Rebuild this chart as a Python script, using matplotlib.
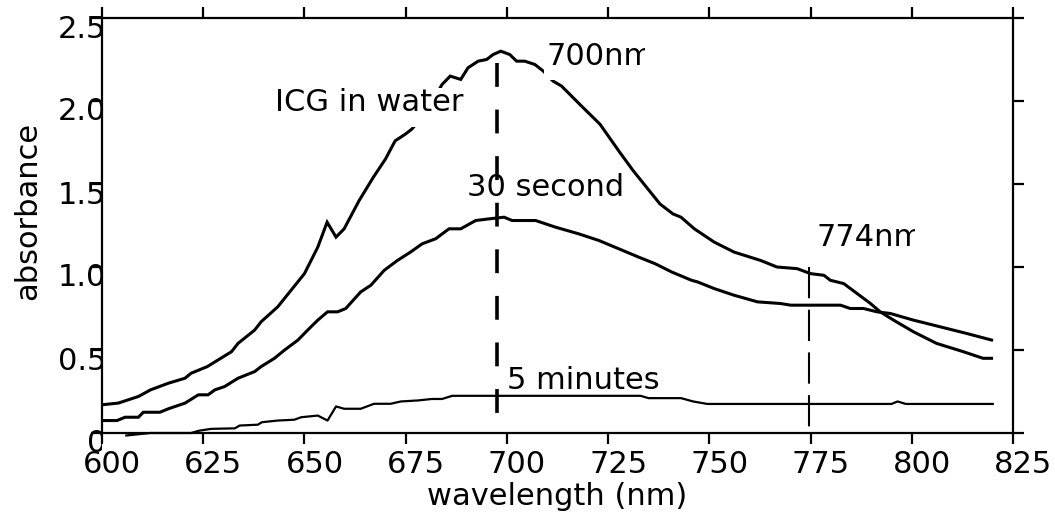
import matplotlib
matplotlib.use("Agg")
import matplotlib.pyplot as plt
from matplotlib.path import Path
from matplotlib.transforms import ScaledTranslation, TransformedBbox, Bbox

# ---------------- data ----------------
icg_nm = [600, 604, 609, 612, 616.4, 620.5, 622, 626, 628, 632, 633.6, 637.7, 639.3,
          643.4, 646.7, 650, 653.3, 655.6, 657.8, 659.8, 663.5, 667, 670, 672.4, 674.9,
          676.5, 680, 684, 686, 688.6, 690.4, 692.9, 695, 696.6, 698.5, 700.7, 702.4,
          704.4, 706.9, 709, 711.4, 713.5, 718, 723, 727.9, 731.2, 734.5, 737.8, 741,
          743, 746.3, 751.2, 756.1, 762.6, 766.7, 771.7, 775, 778.3, 779.9, 783.2,
          786.5, 789.8, 792.2, 795.5, 800.4, 806.1, 812.7, 817.6, 819.7]
icg_abs = [0.17, 0.18, 0.22, 0.26, 0.30, 0.33, 0.36, 0.40, 0.43, 0.49, 0.54, 0.62, 0.67,
           0.76, 0.86, 0.96, 1.12, 1.27, 1.18, 1.23, 1.40, 1.54, 1.65, 1.76, 1.80,
           1.83, 1.93, 2.10, 2.15, 2.13, 2.20, 2.24, 2.25, 2.28, 2.30, 2.28, 2.24,
           2.24, 2.22, 2.18, 2.12, 2.09, 1.98, 1.86, 1.69, 1.58, 1.48, 1.38, 1.32,
           1.30, 1.23, 1.15, 1.09, 1.04, 1.00, 0.99, 0.96, 0.95, 0.92, 0.90,
           0.84, 0.78, 0.73, 0.68, 0.61, 0.54, 0.49, 0.45, 0.45]

sec30_nm = [600, 603.7, 605.7, 609, 610.2, 614.3, 616.4, 620.5, 623.8, 626.2, 627.9,
            630.3, 633.6, 637.7, 639.3, 642.6, 645.1, 648.4, 650.8, 653.3, 655.7, 658.2,
            660.2, 663.9, 666.4, 669.7, 673, 676.2, 679.1, 682.4, 685.7, 688.6, 692.3,
            695.6, 699.3, 701.3, 707.1, 712, 717.7, 722.7, 727.6, 732.5, 736.6, 740.7,
            745.6, 747.1, 751.2, 756.1, 761.9, 767.6, 770.1, 782.4, 784.8, 788.1,
            791.4, 794.7, 800.4, 803.7, 808.6, 813.5, 819.7]
sec30_abs = [0.075, 0.075, 0.095, 0.095, 0.125, 0.125, 0.146, 0.18, 0.23, 0.23, 0.26,
             0.28, 0.33, 0.37, 0.40, 0.45, 0.50, 0.56, 0.62, 0.68, 0.73, 0.73,
             0.75, 0.85, 0.89, 0.98, 1.04, 1.09, 1.14, 1.17, 1.23, 1.23, 1.28,
             1.29, 1.30, 1.28, 1.28, 1.24, 1.20, 1.16, 1.11, 1.06, 1.02, 0.97,
             0.92, 0.91, 0.87, 0.83, 0.79, 0.78, 0.77, 0.77, 0.75, 0.75,
             0.73, 0.72, 0.68, 0.66, 0.63, 0.60, 0.56]

min5_nm = [606, 612, 622, 624, 627, 632.8, 634, 638.5, 639.5, 643.4, 647.5, 649.2,
           653.3, 655.7, 657.8, 659.8, 663.9, 667.2, 671.3, 673.8, 678, 681.5, 684,
           686.5, 733, 735, 743, 746, 749.5, 795, 796.5, 798.5, 820]
min5_abs = [-0.015, 0.0, 0.0, 0.014, 0.025, 0.028, 0.045, 0.05, 0.065, 0.075, 0.08, 0.095,
            0.105, 0.075, 0.16, 0.146, 0.146, 0.176, 0.176, 0.19, 0.196, 0.205, 0.205,
            0.224, 0.224, 0.21, 0.21, 0.19, 0.175, 0.175, 0.19, 0.175, 0.175]

peak_nm = [697.5, 774.7]
peak_top = [2.23, 1.00]
peak_bottom = [0.05, 0.01]

x_ticks = [600, 625, 650, 675, 700, 725, 750, 775, 800, 825]
y_ticks = [0, 0.5, 1.0, 1.5, 2.0, 2.5]
y_tick_labels = ["0", "0.5", "1.0", "1.5", "2.0", "2.5"]

# ---------------- figure ----------------
plt.rcParams['font.family'] = ['DejaVu Sans']
FS = 22
W, H = 1055, 518
fig = plt.figure(figsize=(W / 100, H / 100), dpi=100)
ax = fig.add_axes([102 / W, (H - 433) / H, (1013 - 102) / W, (433 - 18) / H])

ax.plot(icg_nm, icg_abs, color='black', lw=2.2, solid_joinstyle='miter', zorder=2)
ax.plot(sec30_nm, sec30_abs, color='black', lw=2.2, solid_joinstyle='miter', zorder=2)
ax.plot(min5_nm, min5_abs, color='black', lw=1.6, clip_on=False, zorder=2)

# dashed peak markers
ax.plot([peak_nm[0], peak_nm[0]], [peak_top[0], peak_bottom[0]], color='black',
        lw=2.6, ls=(0, (6.6, 6.3)), dash_capstyle='butt', zorder=4)
ax.plot([peak_nm[1], peak_nm[1]], [peak_top[1], peak_bottom[1]], color='black',
        lw=1.5, ls=(0, (15.0, 5.5)), dash_capstyle='butt', zorder=4)


def low_box(x0, y0, width, height, mutation_size):
    ext = 0.3 * mutation_size
    side = 0.08 * mutation_size
    return Path([(x0 - side, y0 - ext), (x0 + width + side, y0 - ext),
                 (x0 + width + side, y0 + height), (x0 - side, y0 + height),
                 (x0 - side, y0 - ext)], closed=True)


box = dict(boxstyle=low_box, facecolor='white', edgecolor='none')
t_icg = ax.text(642.7, 1.937, "ICG in water", fontsize=FS, bbox=box, zorder=3)
t_700 = ax.text(709.8, 2.217, "700nm", fontsize=FS, bbox=box, zorder=3)
t_30 = ax.text(690.1, 1.43, "30 second", fontsize=FS, zorder=5)
t_774 = ax.text(776.5, 1.127, "774nm", fontsize=FS, bbox=box, zorder=3)
t_5 = ax.text(700.0, 0.265, "5 minutes", fontsize=FS, zorder=5)

ax.set_xlim(600, 825)
ax.set_ylim(0, 2.5)
ax.set_xticks(x_ticks)
ax.set_xticklabels([str(v) for v in x_ticks])
ax.set_yticks(y_ticks)
ax.set_yticklabels(y_tick_labels)

for s in ax.spines.values():
    s.set_linewidth(1.6)

ax.tick_params(axis='both', which='both', direction='out', length=8, width=1.6,
               labelsize=FS, top=True, right=True, labeltop=False, labelright=False)
ax.tick_params(axis='x', pad=4)
ax.tick_params(axis='y', pad=-11)

ax.set_xlabel("wavelength (nm)", fontsize=FS)
ax.xaxis.set_label_coords(0.5, -0.118)
ax.set_ylabel("absorbance", fontsize=FS)
ax.yaxis.set_label_coords(-0.066, 0.535)

# shift tick labels as in the reference
for lab in ax.get_xticklabels():
    lab.set_transform(lab.get_transform() + ScaledTranslation(0.10, 0, fig.dpi_scale_trans))
spine_clip = TransformedBbox(Bbox([[-1, -1], [0, 2]]), ax.transAxes)
for lab in ax.get_yticklabels():
    lab.set_transform(lab.get_transform() + ScaledTranslation(0, -0.08, fig.dpi_scale_trans))
    lab.set_clip_on(True)
    lab.set_clip_box(spine_clip)

# the "nm" labels are cut short in the reference
fig.canvas.draw()
renderer = fig.canvas.get_renderer()
for t in (t_700, t_774):
    ext = t.get_window_extent(renderer)
    t.set_clip_on(True)
    t.set_clip_path(None)
    t.set_clip_box(Bbox.from_extents(ext.x0 - 50, ext.y0 - 50,
                                     ext.x0 + 0.92 * ext.width, ext.y1 + 50))

fig.savefig("out.png", dpi=100, facecolor='white')
